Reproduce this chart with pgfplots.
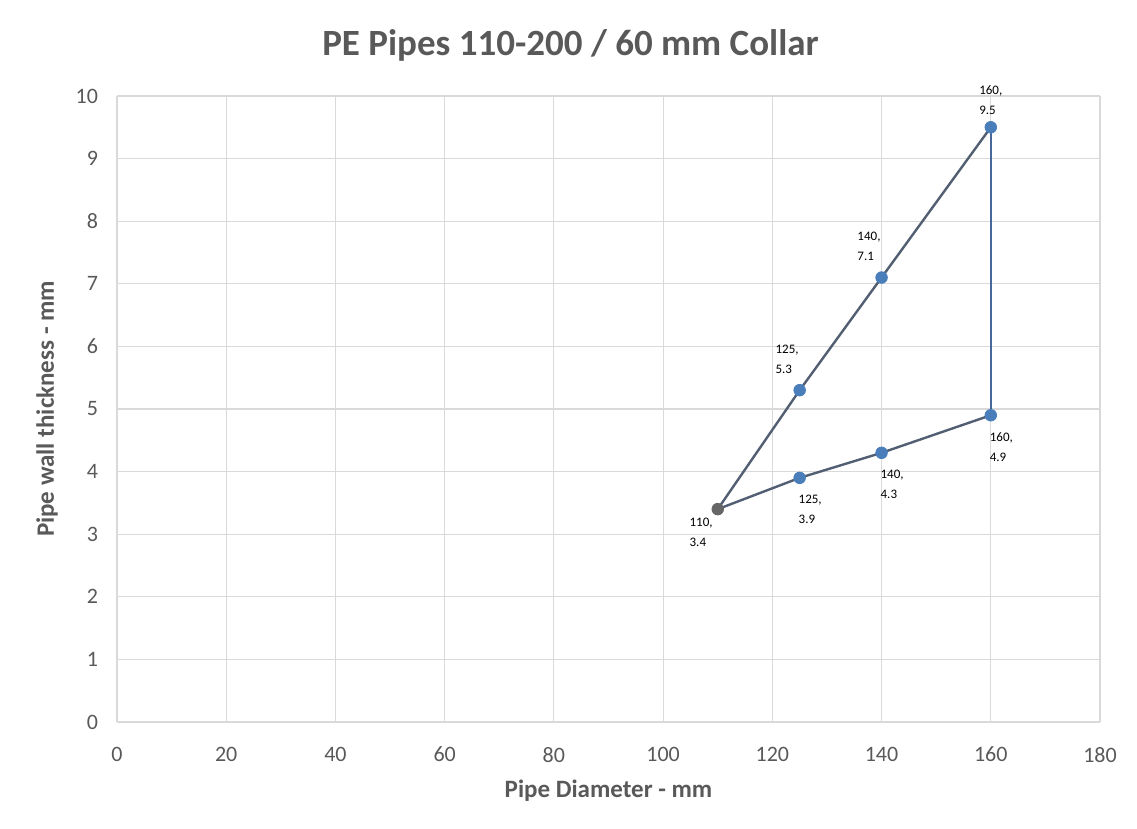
\documentclass[border=0pt]{standalone}
\usepackage{fontspec}
\setmainfont{Carlito}
\usepackage{pgfplots}
\pgfplotsset{compat=1.18}
\definecolor{gridc}{HTML}{D9D9D9}
\definecolor{linec}{HTML}{525E72}
\definecolor{linec2}{HTML}{46699A}
\definecolor{markc}{HTML}{4A7EBB}
\definecolor{txt}{HTML}{595959}
\pgfplotsset{
  lbl/.style={
    nodes near coords={\pgfmathprintnumber{\pgfkeysvalueof{/data point/x}},\\\pgfmathprintnumber{\pgfkeysvalueof{/data point/y}}},
    every node near coord/.append style={font=\fontsize{6.5}{10}\selectfont, align=left, text=black},
  }
}
\begin{document}
\begin{tikzpicture}
\begin{axis}[
  scale only axis,
  width=491.5pt, height=313pt,
  xmin=0, xmax=180, ymin=0, ymax=10,
  xtick={0,20,...,180}, ytick={0,1,...,10},
  grid=major,
  major grid style={gridc, line width=0.6pt},
  axis line style={gridc, line width=0.6pt},
  axis x line*=bottom, axis y line*=left,
  tick style={draw=none},
  ticklabel style={font=\fontsize{11}{13}\selectfont, text=txt},
  xticklabel style={yshift=-9pt},
  yticklabel style={xshift=-6pt},
  /pgf/number format/assume math mode=true,
  xlabel={\textbf{Pipe Diameter - mm}},
  ylabel={\textbf{Pipe wall thickness - mm}},
  label style={font=\fontsize{12.5}{15}\selectfont, text=txt},
  xlabel style={yshift=-2pt},
  ylabel style={yshift=2pt},
  title={\textbf{PE Pipes 110-200 / 60 mm Collar}},
  title style={font=\fontsize{18.5}{22}\selectfont, text=txt, yshift=8pt, xshift=-19pt},
  clip=false,
]
% outline lines
\addplot[linec, line width=1.2pt, no marks] coordinates {(110,3.4) (125,5.3) (140,7.1) (160,9.5)};
\addplot[linec2, line width=1.2pt, no marks] coordinates {(160,9.5) (160,4.9)};
\addplot[linec, line width=1.2pt, no marks] coordinates {(110,3.4) (125,3.9) (140,4.3) (160,4.9)};
% markers with labels
\addplot[only marks, mark=*, mark size=2.9pt, markc, lbl,
  every node near coord/.append style={anchor=south east, xshift=3pt, yshift=5pt}]
  coordinates {(125,5.3) (140,7.1)};
\addplot[only marks, mark=*, mark size=2.9pt, markc, lbl,
  every node near coord/.append style={anchor=south, yshift=3pt}]
  coordinates {(160,9.5)};
\addplot[only marks, mark=*, mark size=2.9pt, markc, lbl,
  every node near coord/.append style={anchor=north west, xshift=-4pt, yshift=-5pt}]
  coordinates {(125,3.9) (140,4.3) (160,4.9)};
\addplot[only marks, mark=*, mark size=2.9pt, gray!80!black, lbl,
  every node near coord/.append style={anchor=north east, xshift=1pt, yshift=-1pt}]
  coordinates {(110,3.4)};
\end{axis}
\useasboundingbox ([xshift=-58.5pt,yshift=-53pt]current axis.south west) rectangle ([xshift=18.5pt,yshift=48pt]current axis.north east);
\end{tikzpicture}
\end{document}
